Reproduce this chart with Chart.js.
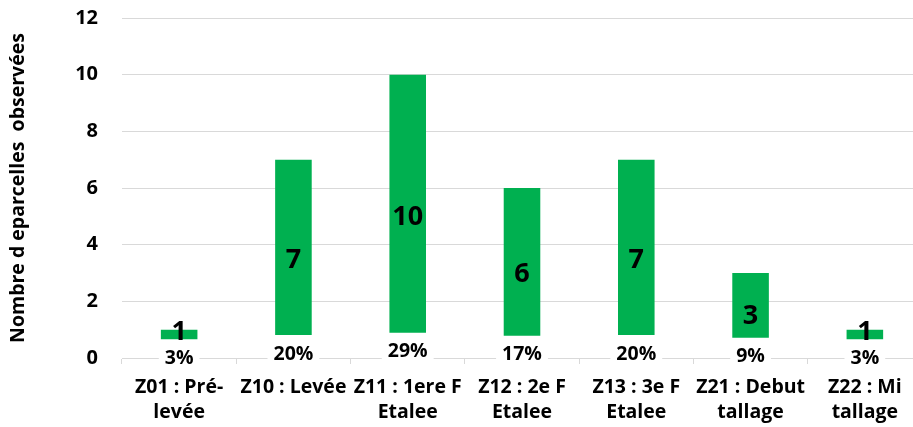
<!DOCTYPE html>
<html>
<head>
<meta charset="utf-8">
<script src="https://cdn.jsdelivr.net/npm/chart.js@4.4.0/dist/chart.umd.min.js"></script>
<style>
  html, body { margin: 0; padding: 0; background: #fff; overflow: hidden; }
  #wrap { width: 922px; height: 427px; }
</style>
</head>
<body>
<div id="wrap"><canvas id="canvas1" width="922" height="427"></canvas></div>
<script>
// donnees
let stades = [
    ['Z01 : Pré-', 'levée'],
    'Z10 : Levée',
    ['Z11 : 1ere F', 'Etalee'],
    ['Z12 : 2e F', 'Etalee'],
    ['Z13 : 3e F', 'Etalee'],
    ['Z21 : Debut', 'tallage'],
    ['Z22 : Mi', 'tallage']
];
let nbParcelles = [1, 7, 10, 6, 7, 3, 1];
let pourcentages = [3, 20, 29, 17, 20, 9, 3];
let yTicks = [0, 2, 4, 6, 8, 10, 12];

let fontName = '"Open Sans", "Noto Sans", sans-serif';

// labels : valeur dans la barre + pourcentage sur fond blanc en bas
let labelPlugin = {
    id: 'labelPlugin',
    afterDatasetsDraw(chart) {
        let ctx = chart.ctx;
        let meta = chart.getDatasetMeta(0);
        let y0 = chart.scales.y.getPixelForValue(0);
        ctx.save();
        meta.data.forEach(function (bar, i) {
            let pctText = pourcentages[i] + '%';
            let cy = y0 + 1 - pourcentages[i] * 0.25;
            ctx.font = 'bold 19.5px ' + fontName;
            let w = ctx.measureText(pctText).width + 12;
            let boxTop = cy - 19;
            ctx.fillStyle = '#ffffff';
            ctx.fillRect(bar.x - w / 2, boxTop, w, (cy + 12) - boxTop);
            ctx.fillStyle = '#000000';
            ctx.textAlign = 'center';
            ctx.textBaseline = 'middle';
            ctx.fillText(pctText, bar.x, cy);

            // valeur
            let mid = (bar.y + y0) / 2;
            let vy = Math.min(mid, boxTop - 8);
            ctx.font = 'bold 27px ' + fontName;
            ctx.fillText(String(nbParcelles[i]), bar.x, vy + 1);
        });
        ctx.restore();
    }
};

let ctx1 = document.getElementById('canvas1').getContext('2d');
let config = {
    type: 'bar',
    data: {
        labels: stades,
        datasets: [{
            data: nbParcelles,
            backgroundColor: '#00B050',
            borderWidth: 0,
            categoryPercentage: 1,
            barPercentage: 0.32
        }]
    },
    options: {
        responsive: false,
        animation: false,
        layout: { padding: { top: 18, right: 0, bottom: 0, left: 7 } },
        plugins: {
            legend: { display: false },
            tooltip: { enabled: false }
        },
        scales: {
            x: {
                grid: {
                    drawOnChartArea: false,
                    color: '#d9d9d9',
                    tickLength: 6
                },
                border: { color: '#d9d9d9' },
                ticks: {
                    color: '#000',
                    padding: 11,
                    maxRotation: 0,
                    autoSkip: false,
                    font: { family: fontName, size: 19.5, weight: 'bold', lineHeight: 1.28 }
                },
                afterFit: function (scale) {
                    scale.height = 69;
                    scale.paddingLeft = 0;
                    scale.paddingRight = 0;
                }
            },
            y: {
                min: 0,
                max: 12,
                afterBuildTicks: function (scale) {
                    scale.ticks = yTicks.map(v => ({ value: v }));
                },
                grid: { color: '#d9d9d9', drawTicks: false },
                border: { display: false },
                ticks: {
                    color: '#000',
                    padding: 24,
                    font: { family: fontName, size: 20, weight: 'bold' }
                },
                title: {
                    display: true,
                    text: 'Nombre d eparcelles  observées',
                    color: '#000',
                    font: { family: fontName, size: 19.5, weight: 'bold' },
                    padding: 0
                },
                afterFit: function (scale) {
                    scale.width = 115;
                    scale.paddingTop = 0;
                    scale.paddingBottom = 0;
                }
            }
        }
    },
    plugins: [labelPlugin]
};

let chart1 = new Chart(ctx1, config);
</script>
</body>
</html>
